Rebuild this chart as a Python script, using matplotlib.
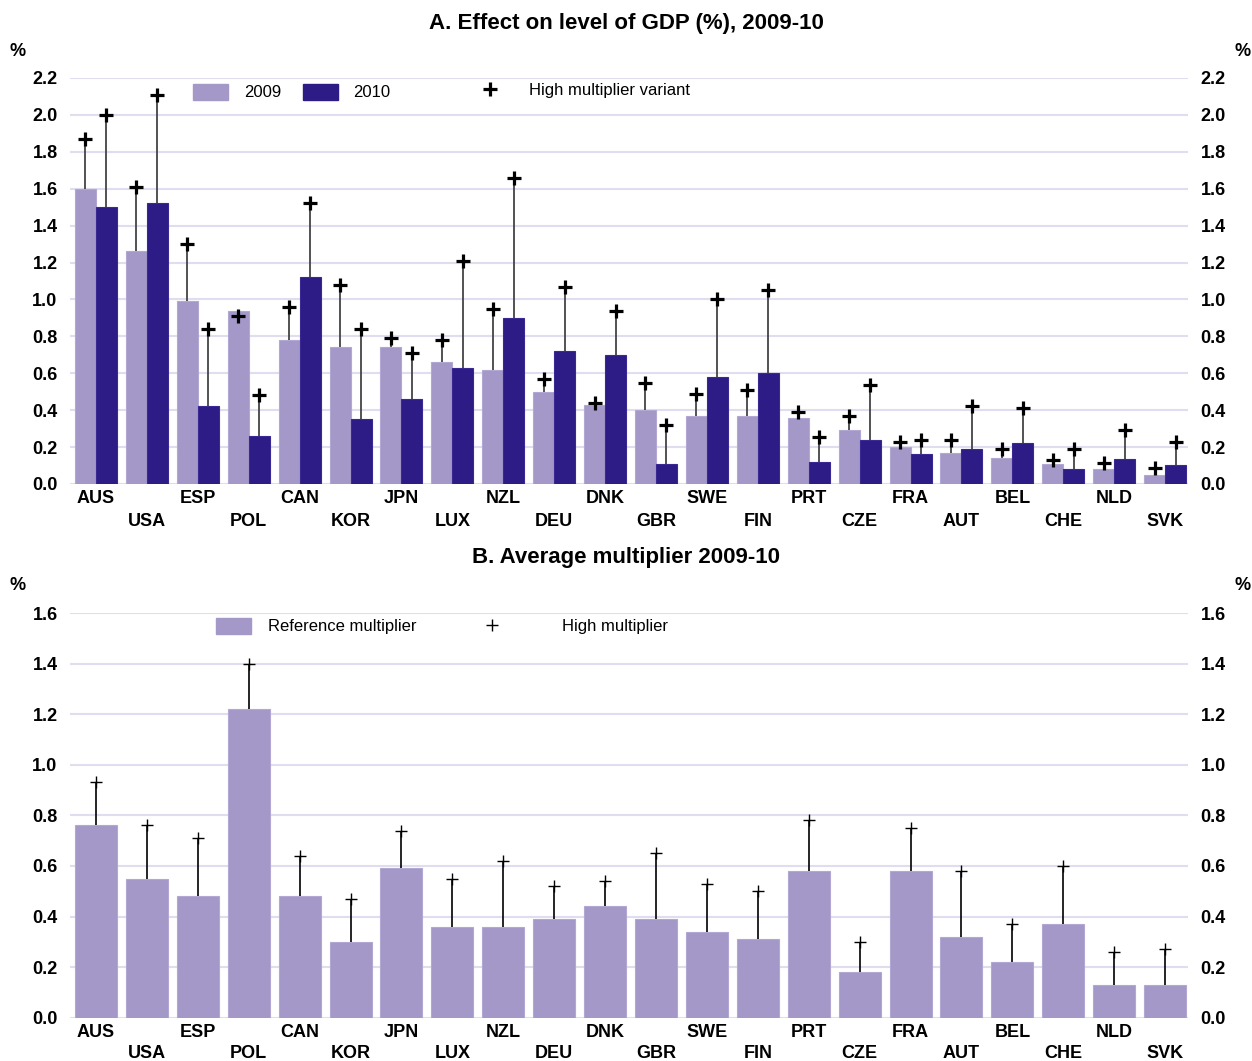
import numpy as np
import matplotlib.pyplot as plt
from matplotlib.patches import Patch
from matplotlib.lines import Line2D

plt.rcParams['font.family'] = ['Liberation Sans', 'DejaVu Sans']

countries = ['AUS', 'USA', 'ESP', 'POL', 'CAN', 'KOR', 'JPN', 'LUX', 'NZL', 'DEU', 'DNK',
             'GBR', 'SWE', 'FIN', 'PRT', 'CZE', 'FRA', 'AUT', 'BEL', 'CHE', 'NLD', 'SVK']

# Panel A: effect on GDP level (%)
gdp_2009 = [1.60, 1.26, 0.99, 0.94, 0.78, 0.74, 0.74, 0.66, 0.62, 0.50, 0.43,
            0.40, 0.37, 0.37, 0.36, 0.29, 0.20, 0.17, 0.14, 0.11, 0.08, 0.05]
gdp_2010 = [1.50, 1.52, 0.42, 0.26, 1.12, 0.35, 0.46, 0.63, 0.90, 0.72, 0.70,
            0.11, 0.58, 0.60, 0.12, 0.24, 0.16, 0.19, 0.22, 0.08, 0.135, 0.105]
high_2009 = [1.87, 1.61, 1.30, 0.91, 0.96, 1.08, 0.79, 0.78, 0.95, 0.57, 0.44,
             0.55, 0.49, 0.51, 0.39, 0.37, 0.23, 0.24, 0.19, 0.13, 0.115, 0.085]
high_2010 = [2.00, 2.11, 0.84, 0.48, 1.52, 0.84, 0.71, 1.21, 1.66, 1.07, 0.94,
             0.32, 1.00, 1.05, 0.255, 0.535, 0.24, 0.42, 0.41, 0.19, 0.295, 0.23]

# Panel B: average multiplier
mult_ref = [0.76, 0.55, 0.48, 1.22, 0.48, 0.30, 0.59, 0.36, 0.36, 0.39, 0.44,
            0.39, 0.34, 0.31, 0.58, 0.18, 0.58, 0.32, 0.22, 0.37, 0.13, 0.13]
mult_high = [0.93, 0.76, 0.71, 1.40, 0.64, 0.47, 0.74, 0.55, 0.62, 0.52, 0.54,
             0.65, 0.53, 0.50, 0.78, 0.30, 0.75, 0.58, 0.37, 0.60, 0.26, 0.27]

light = '#a498c8'
dark = '#2e1c86'
grid_col = '#e0ddf0'

W, H = 1252, 1061
fig = plt.figure(figsize=(W / 100, H / 100), dpi=100)

def fx(px):
    return px / W

def fy(py):
    return 1 - py / H

ax1 = fig.add_axes([fx(70), fy(484), fx(1188) - fx(70), fy(78) - fy(484)])
ax2 = fig.add_axes([fx(70), fy(1017.7), fx(1188) - fx(70), fy(613) - fy(1017.7)])

x = np.arange(len(countries))
bw = 0.4125

ax1.bar(x - bw / 2, gdp_2009, bw, color=light, edgecolor='#b3a8d4', linewidth=0.8, zorder=2)
ax1.bar(x + bw / 2, gdp_2010, bw, color=dark, edgecolor='#3a2893', linewidth=0.8, zorder=2)
ax1.vlines(x - bw / 2, gdp_2009, high_2009, color='#444444', linewidth=1.3, zorder=3)
ax1.vlines(x + bw / 2, gdp_2010, high_2010, color='#444444', linewidth=1.3, zorder=3)
ax1.plot(x - bw / 2, high_2009, ls='none', marker='+', ms=9.5, mew=2.3, color='black', zorder=4)
ax1.plot(x + bw / 2, high_2010, ls='none', marker='+', ms=9.5, mew=2.3, color='black', zorder=4)
ax1.set_ylim(0, 2.2)
ax1.set_yticks(np.arange(0, 2.21, 0.2))

ax2.bar(x, mult_ref, 2 * bw, color=light, edgecolor='#b3a8d4', linewidth=0.8, zorder=2)
ax2.vlines(x, mult_ref, mult_high, color='black', linewidth=1.2, zorder=3)
ax2.plot(x, mult_high, ls='none', marker='+', ms=8, mew=1.0, color='black', zorder=4)
ax2.set_ylim(0, 1.6)
ax2.set_yticks(np.arange(0, 1.61, 0.2))

xlabels = [c if i % 2 == 0 else '\n' + c for i, c in enumerate(countries)]
for ax, ls in ((ax1, 1.45), (ax2, 1.35)):
    ax.set_xlim(-0.51, 21.45)
    ax.set_xticks(x)
    ax.set_xticklabels(xlabels, fontsize=13, fontweight='bold', linespacing=ls)
    ax.yaxis.set_major_formatter(plt.FormatStrFormatter('%.1f'))
    ax.tick_params(axis='x', length=0, pad=4.5)
    ax.tick_params(axis='y', length=0, pad=9, labelsize=13, labelleft=True, labelright=True)
    for lab in ax.get_yticklabels():
        lab.set_fontweight('bold')
    ax.grid(axis='y', color=grid_col, linewidth=1.5, zorder=0)
    ax.set_axisbelow(True)
    for s in ax.spines.values():
        s.set_visible(False)

# titles and unit labels
fig.text(fx(626), fy(23), 'A. Effect on level of GDP (%), 2009-10', ha='center', va='center',
         fontsize=16, fontweight='bold')
fig.text(fx(626), fy(557), 'B. Average multiplier 2009-10', ha='center', va='center',
         fontsize=16, fontweight='bold')
for yy in (52, 586):
    fig.text(fx(18), fy(yy), '%', ha='center', va='center', fontsize=13, fontweight='bold')
    fig.text(fx(1243), fy(yy), '%', ha='center', va='center', fontsize=13, fontweight='bold')

# legends
leg_kw = dict(frameon=False, fontsize=12, borderpad=0, borderaxespad=0, loc='center left',
              bbox_transform=fig.transFigure)
la = fig.legend([Patch(color=light), Patch(color=dark)], ['2009', '2010'], ncol=2,
                handlelength=2.1, handleheight=1.1, handletextpad=0.95, columnspacing=1.3,
                bbox_to_anchor=(fx(193), fy(92)), **leg_kw)
lb = fig.legend([Line2D([], [], ls='none', marker='+', ms=9.5, mew=2.3, color='black')],
                ['High multiplier variant'], handlelength=1.0, handletextpad=1.84,
                bbox_to_anchor=(fx(481.7), fy(90)), **leg_kw)
lc = fig.legend([Patch(color=light)], ['Reference multiplier'],
                handlelength=2.1, handleheight=1.1, handletextpad=1.0,
                bbox_to_anchor=(fx(216), fy(626)), **leg_kw)
ld = fig.legend([Line2D([], [], ls='none', marker='+', ms=8, mew=1.0, color='black')],
                ['High multiplier'], handlelength=1.0, handletextpad=3.7,
                bbox_to_anchor=(fx(483.7), fy(626)), **leg_kw)

fig.savefig('out.png', dpi=100, facecolor='white')
